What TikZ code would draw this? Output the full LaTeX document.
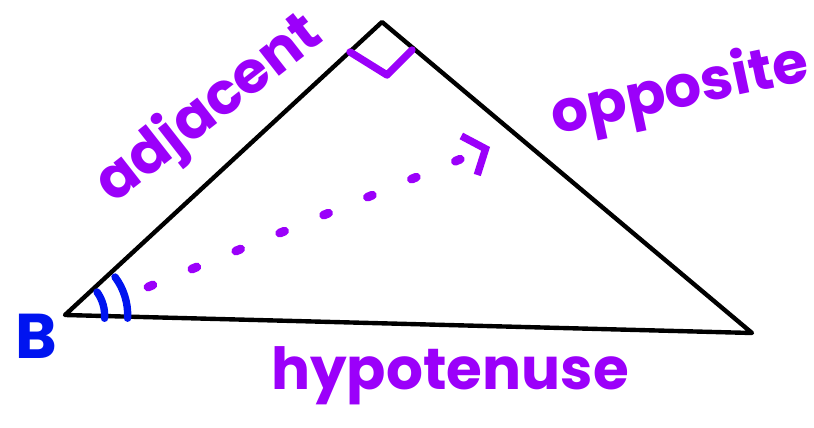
\documentclass[tikz,border=0pt]{standalone}
\usepackage{fontspec}
\setmainfont{Poppins}
\usetikzlibrary{arrows.meta,calc}

\definecolor{penpurple}{RGB}{155,0,250}
\definecolor{penblue}{RGB}{0,20,240}

\begin{document}
\begin{tikzpicture}[x=0.02cm, y=-0.02cm, >=Stealth,
  side/.style={line width=2.5pt, line join=round, line cap=round},
  word/.style={penpurple, font=\fontsize{33}{33}\selectfont\bfseries},
  pen/.style={line width=4.2pt, line cap=round, line join=round}]

\useasboundingbox (0,0) rectangle (814,428);

% Corners
\coordinate (B) at (65,315);
\coordinate (C) at (382,22);
\coordinate (A) at (752,333);

% Triangle
\draw[side] (B) -- (C) -- (A) -- cycle;

% Right angle at the top
\draw[pen, penpurple] (350,52) -- (387,75) -- (412,50);

% Angle marks at B
\draw[pen, penblue] (97,292) arc[start angle=-36, end angle=4, radius=40];
\draw[pen, penblue] (115,277) arc[start angle=-37, end angle=3, radius=63];

% Dotted arrow
\coordinate (s) at (148,287);
\coordinate (t) at (490,147);
\draw[penpurple, line width=5pt, line cap=round, dash pattern=on 3pt off 24pt,
      -{Straight Barb[length=10pt, width=24pt, line width=4.2pt]}] (s) -- (t);

% Labels
\node[word, rotate=38] (adj) at (210,110) {adjacent};
\node[word, rotate=12] (opp) at (680,92) {opposite};
\node[word] (hyp) at (450,376) {hypotenuse};
\node[penblue, font=\fontsize{36}{36}\selectfont\bfseries] (b) at (36,336) {B};

\end{tikzpicture}
\end{document}
